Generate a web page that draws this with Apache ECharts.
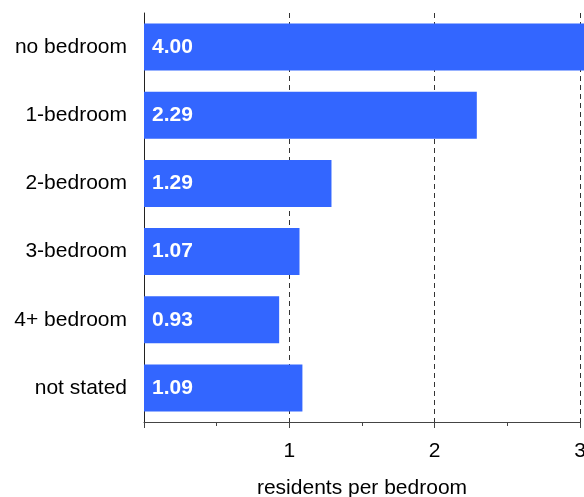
<!DOCTYPE html>
<html>
<head>
<meta charset="utf-8">
<script src="https://cdn.jsdelivr.net/npm/echarts@6/dist/echarts.min.js"></script>
<style>
html,body{margin:0;padding:0;background:#fff;overflow:hidden;width:584px;height:497px;}
#chart{width:584px;height:497px;position:absolute;left:0;top:0;}
</style>
</head>
<body>
<div id="chart"></div>
<script>
const categories = ["no bedroom", "1-bedroom", "2-bedroom", "3-bedroom", "4+ bedroom", "not stated"];
const residentsPerBedroom = [4.00, 2.29, 1.29, 1.07, 0.93, 1.09];
const xTicks = [0, 1, 2, 3];
const axisTitle = "residents per bedroom";

const chart = echarts.init(document.getElementById('chart'), null, {renderer: 'canvas', width: 584, height: 497});
const font = 'Liberation Sans, Arial, Helvetica, sans-serif';
chart.setOption({
  animation: false,
  grid: {left: 144, top: 13, width: 436, height: 409, containLabel: false, outerBoundsMode: 'none'},
  xAxis: {
    type: 'value',
    min: xTicks[0],
    max: xTicks[xTicks.length - 1],
    interval: 1,
    name: axisTitle,
    nameLocation: 'middle',
    nameGap: 56,
    nameTextStyle: {fontFamily: font, fontSize: 21, color: '#000'},
    axisLine: {show: true, lineStyle: {color: '#444', width: 1}},
    axisTick: {show: true, length: 6, lineStyle: {color: '#444'}},
    minorTick: {show: true, splitNumber: 2, length: 4, lineStyle: {color: '#444'}},
    axisLabel: {show: true, showMinLabel: false, margin: 19, fontFamily: font, fontSize: 21, color: '#000'},
    splitLine: {show: true, lineStyle: {color: '#333', width: 1, type: [5, 4]}}
  },
  yAxis: {
    type: 'category',
    inverse: true,
    data: categories,
    axisLine: {show: true, lineStyle: {color: '#222', width: 1}},
    axisTick: {show: false},
    axisLabel: {margin: 17, fontFamily: font, fontSize: 21, color: '#000'}
  },
  series: [{
    type: 'bar',
    data: residentsPerBedroom,
    barCategoryGap: '31%',
    clip: false,
    itemStyle: {color: '#3366FF'},
    label: {
      show: true,
      position: 'insideLeft',
      distance: 8,
      formatter: p => p.value.toFixed(2),
      fontFamily: font,
      fontSize: 21,
      fontWeight: 'bold',
      color: '#fff'
    }
  }]
});
</script>
</body>
</html>
